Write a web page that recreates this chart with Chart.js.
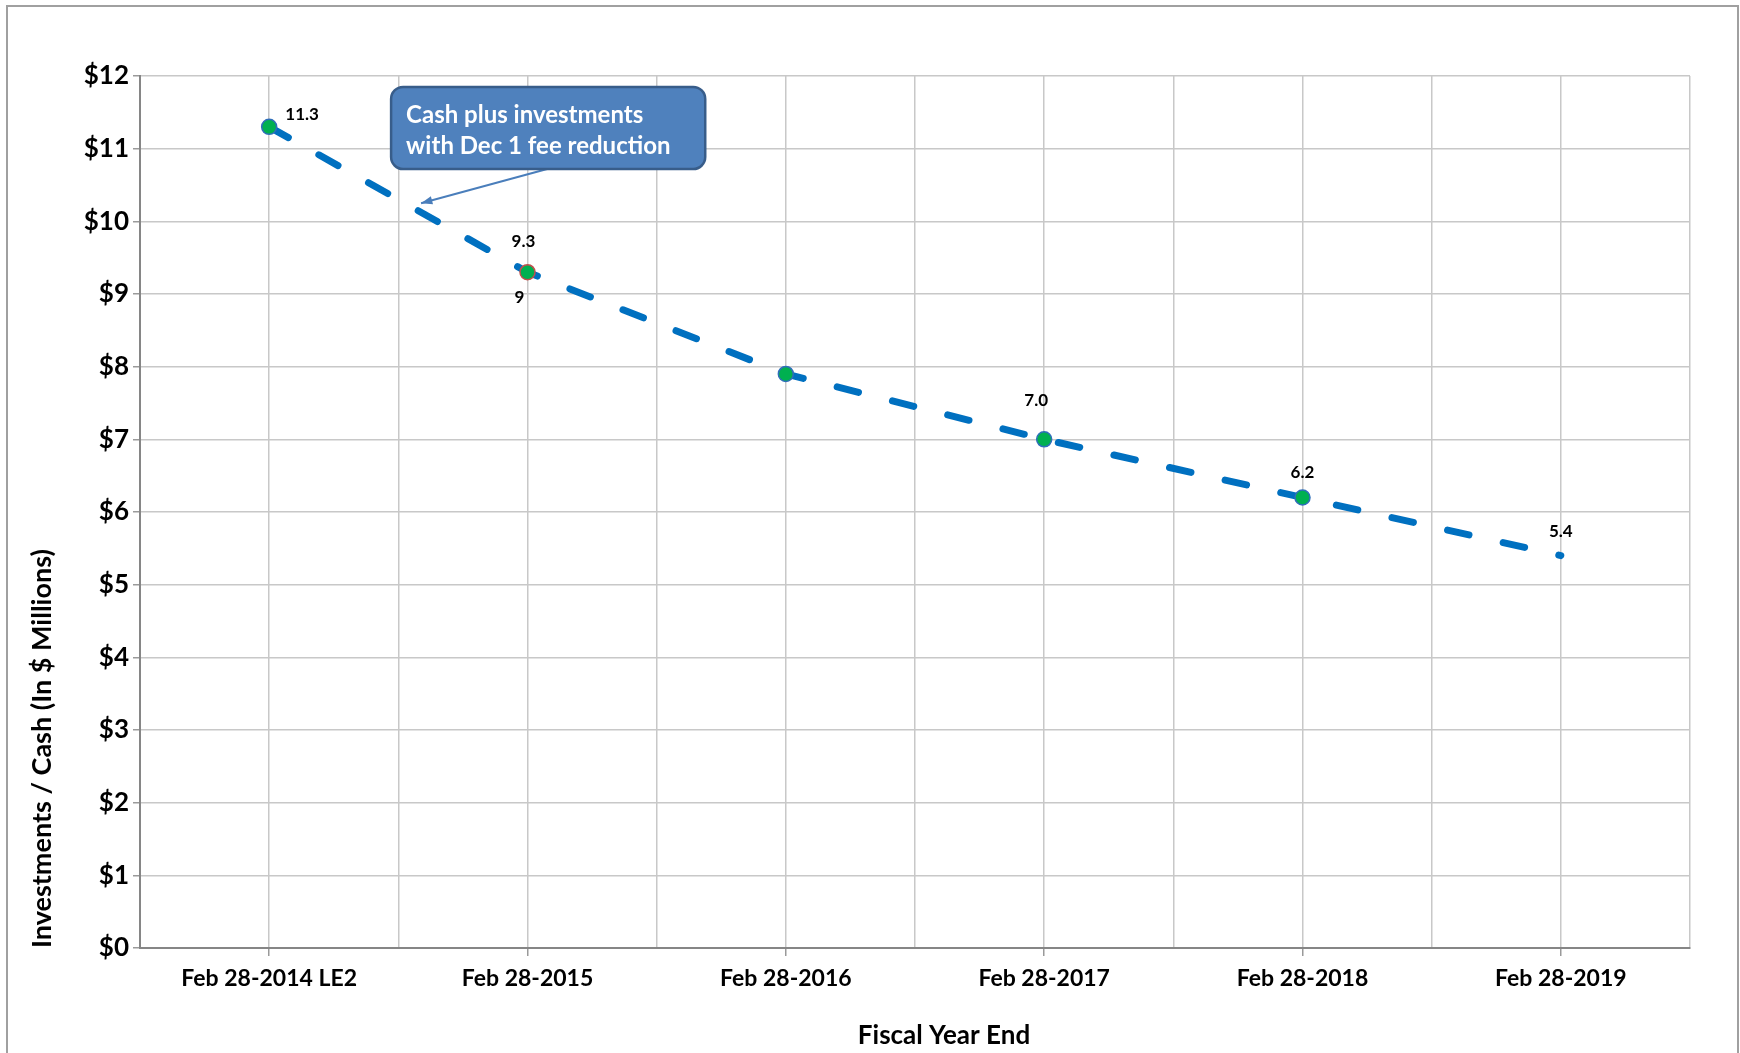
<!DOCTYPE html>
<html>
<head>
<meta charset="utf-8">
<script src="https://cdn.jsdelivr.net/npm/chart.js@4.4.1/dist/chart.umd.min.js"></script>
<style>
    html, body { margin: 0; padding: 0; background: #fff; }
    #wrap { position: relative; width: 1740px; height: 1053px; overflow: hidden; }
    #frame { position: absolute; left: 6px; top: 5px; width: 1729px; height: 1100px; border: 2px solid #a0a0a0; }
    #cashChart { position: absolute; left: 0; top: 0; }
</style>
</head>
<body>
<div id="wrap">
    <div id="frame"></div>
    <canvas id="cashChart" width="1740" height="1053"></canvas>
</div>
<script>
// categories (fiscal year end)
const categories = ['Feb 28-2014 LE2', 'Feb 28-2015', 'Feb 28-2016', 'Feb 28-2017', 'Feb 28-2018', 'Feb 28-2019'];
// cash plus investments, $ millions
const cashValues = [11.3, 9.3, 7.9, 7.0, 6.2, 5.4];
const cashLabelShown = [true, true, false, true, true, true];
// stray label left from another series at Feb 28-2015
const otherIndex = [1];
const otherValues = [9];
const yTicks = [0, 1, 2, 3, 4, 5, 6, 7, 8, 9, 10, 11, 12];

// label offsets from the point (px)
const cashLabelOffsets = [[33, -12], [-4, -31], [0, -25], [-8, -39], [0, -25], [0, -24]];
const otherLabelOffsets = [[-8, 4]];

const FONT = 'Lato, "Open Sans", sans-serif';

const labelPlugin = {
    id: 'pointLabels',
    afterDatasetsDraw(chart) {
        const ctx = chart.ctx;
        ctx.save();
        ctx.font = 'bold 17px ' + FONT;
        ctx.fillStyle = '#000';
        ctx.textAlign = 'center';
        ctx.textBaseline = 'middle';
        chart.data.datasets.forEach((ds, di) => {
            const meta = chart.getDatasetMeta(di);
            meta.data.forEach((pt, i) => {
                if (ds.labelShown && !ds.labelShown[i]) return;
                const off = ds.labelOffsets[i];
                const txt = ds.labelFormat(ds.data[i].y);
                ctx.fillText(txt, pt.x + off[0], pt.y + off[1]);
            });
        });
        ctx.restore();
    }
};

// x title sits a little right of the plot centre in the original
const xTitlePlugin = {
    id: 'xTitle',
    afterDraw(chart) {
        const ctx = chart.ctx;
        const xs = chart.scales.x;
        ctx.save();
        ctx.font = 'bold 26px ' + FONT;
        ctx.fillStyle = '#000';
        ctx.textAlign = 'center';
        ctx.textBaseline = 'middle';
        ctx.fillText('Fiscal Year End', (xs.left + xs.right) / 2 + 29, xs.bottom - 17);
        ctx.restore();
    }
};

const calloutPlugin = {
    id: 'callout',
    afterDraw(chart) {
        const ctx = chart.ctx;
        const xs = chart.scales.x, ys = chart.scales.y;
        const x1 = xs.getPixelForValue(0.472), x2 = xs.getPixelForValue(1.688);
        const y1 = ys.getPixelForValue(11.85), y2 = ys.getPixelForValue(10.72);
        const r = 12;
        ctx.save();
        const ax = xs.getPixelForValue(1.076), ay = y2;
        const tx = xs.getPixelForValue(0.588), ty = ys.getPixelForValue(10.25);
        ctx.strokeStyle = '#4A7EBB';
        ctx.fillStyle = '#4A7EBB';
        ctx.lineWidth = 2;
        ctx.beginPath();
        ctx.moveTo(ax, ay);
        ctx.lineTo(tx, ty);
        ctx.stroke();
        const ang = Math.atan2(ty - ay, tx - ax);
        ctx.beginPath();
        ctx.moveTo(tx, ty);
        ctx.lineTo(tx - 12 * Math.cos(ang - 0.35), ty - 12 * Math.sin(ang - 0.35));
        ctx.lineTo(tx - 12 * Math.cos(ang + 0.35), ty - 12 * Math.sin(ang + 0.35));
        ctx.closePath();
        ctx.fill();

        ctx.beginPath();
        ctx.roundRect(x1, y1, x2 - x1, y2 - y1, r);
        ctx.fillStyle = '#4F81BD';
        ctx.fill();
        ctx.lineWidth = 2.5;
        ctx.strokeStyle = '#385D8A';
        ctx.stroke();

        ctx.fillStyle = '#fff';
        ctx.font = 'bold 24px ' + FONT;
        ctx.textAlign = 'left';
        ctx.textBaseline = 'middle';
        ctx.fillText('Cash plus investments', x1 + 15, y1 + 28);
        ctx.fillText('with Dec 1 fee reduction', x1 + 15, y1 + 59);
        ctx.restore();
    }
};

const ctx = document.getElementById('cashChart').getContext('2d');
new Chart(ctx, {
    type: 'line',
    data: {
        datasets: [{
            label: 'Cash plus investments',
            data: cashValues.map((v, i) => ({ x: i, y: v })),
            borderColor: '#0070C0',
            borderWidth: 7,
            borderDash: [22, 35],
            borderCapStyle: 'round',
            pointRadius: cashValues.map((v, i) => i === cashValues.length - 1 ? 0 : 7.5),
            pointBackgroundColor: '#00B050',
            pointBorderColor: cashValues.map((v, i) => i === 1 ? '#C0504D' : '#2F6EBA'),
            pointBorderWidth: 1.5,
            labelShown: cashLabelShown,
            labelOffsets: cashLabelOffsets,
            labelFormat: v => v.toFixed(1),
            tension: 0,
            order: 1
        }, {
            label: 'other',
            data: otherValues.map((v, i) => ({ x: otherIndex[i], y: v })),
            showLine: false,
            pointRadius: 0,
            labelOffsets: otherLabelOffsets,
            labelFormat: v => String(v),
            order: 2
        }]
    },
    options: {
        responsive: false,
        animation: false,
        devicePixelRatio: 1,
        layout: { padding: { left: 0, top: 76, right: 50, bottom: 0 } },
        plugins: {
            legend: { display: false },
            tooltip: { enabled: false }
        },
        scales: {
            x: {
                type: 'linear',
                min: -0.5,
                max: 5.5,
                afterFit: s => { s.height = 105; },
                afterBuildTicks: s => {
                    const t = [];
                    for (let k = 0; k <= 12; k++) t.push({ value: -0.5 + k * 0.5 });
                    s.ticks = t;
                },
                ticks: {
                    autoSkip: false,
                    maxRotation: 0,
                    padding: 9,
                    color: '#000',
                    font: { family: FONT, size: 23, weight: 'bold' },
                    callback: v => Number.isInteger(v) ? categories[v] : ''
                },
                grid: {
                    color: '#c8c8c8',
                    lineWidth: 1.5,
                    tickLength: 8,
                    tickColor: c => Number.isInteger(c.tick.value) ? '#9a9a9a' : 'rgba(0,0,0,0)'
                },
                border: { color: '#868686', width: 2 }
            },
            y: {
                min: 0,
                max: 12,
                afterFit: s => { s.width = 140; },
                afterBuildTicks: s => { s.ticks = yTicks.map(v => ({ value: v })); },
                ticks: {
                    padding: 4,
                    color: '#000',
                    font: { family: FONT, size: 26, weight: 'bold' },
                    callback: v => '$' + v
                },
                grid: {
                    color: '#c8c8c8',
                    lineWidth: 1.5,
                    tickLength: 7,
                    tickColor: '#9a9a9a'
                },
                border: { color: '#868686', width: 2 },
                title: {
                    display: true,
                    align: 'start',
                    text: 'Investments / Cash (In $ Millions)',
                    color: '#000',
                    font: { family: FONT, size: 27, weight: 'bold' },
                    padding: { top: 26, bottom: 0 }
                }
            }
        }
    },
    plugins: [labelPlugin, xTitlePlugin, calloutPlugin]
});
</script>
</body>
</html>
